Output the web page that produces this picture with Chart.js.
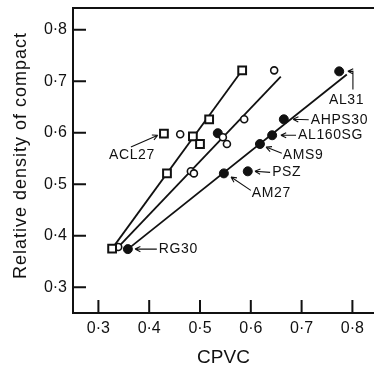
<!DOCTYPE html>
<html>
<head>
<meta charset="utf-8">
<script src="https://cdn.jsdelivr.net/npm/chart.js@4.4.1/dist/chart.umd.min.js"></script>
<style>
  html, body { margin: 0; padding: 0; background: #fff; }
  canvas { display: block; }
</style>
</head>
<body>
<canvas id="chart" width="374" height="369"></canvas>
<script>
// measured points (CPVC, relative density)
const squareX = [0.583, 0.518, 0.429, 0.486, 0.500, 0.435, 0.327];
const squareY = [0.721, 0.626, 0.598, 0.593, 0.578, 0.521, 0.375];
const openX = [0.646, 0.587, 0.461, 0.545, 0.553, 0.482, 0.488, 0.339];
const openY = [0.721, 0.626, 0.597, 0.591, 0.578, 0.525, 0.521, 0.378];
const filledX = [0.774, 0.665, 0.642, 0.535, 0.618, 0.594, 0.547, 0.358];
const filledY = [0.719, 0.626, 0.595, 0.599, 0.578, 0.525, 0.521, 0.374];

// fitted lines
const squareLineX = [0.327, 0.583];
const squareLineY = [0.375, 0.721];
const openLineX = [0.339, 0.659];
const openLineY = [0.378, 0.709];
const filledLineX = [0.358, 0.789];
const filledLineY = [0.374, 0.713];

const xTicks = [0.3, 0.4, 0.5, 0.6, 0.7, 0.8];
const yTicks = [0.3, 0.4, 0.5, 0.6, 0.7, 0.8];

const xTitle = 'CPVC';
const yTitle = 'Relative density of compact';
const powderNames = ['AL31', 'AHPS30', 'AL160SG', 'AMS9', 'PSZ', 'AM27', 'RG30', 'ACL27'];

// label placement, in data units: text anchor, then arrow path (last point gets the head)
const labelSpots = {
  AL31:    {text: [0.754, 0.663], path: [[0.801, 0.684], [0.801, 0.719], [0.791, 0.719]]},
  AHPS30:  {text: [0.718, 0.625], path: [[0.714, 0.625], [0.683, 0.626]]},
  AL160SG: {text: [0.693, 0.595], path: [[0.689, 0.595], [0.659, 0.595]]},
  AMS9:    {text: [0.663, 0.556], path: [[0.661, 0.560], [0.630, 0.572]]},
  PSZ:     {text: [0.642, 0.523], path: [[0.638, 0.523], [0.608, 0.525]]},
  AM27:    {text: [0.602, 0.483], path: [[0.600, 0.488], [0.561, 0.514]]},
  RG30:    {text: [0.419, 0.374], path: [[0.415, 0.374], [0.372, 0.374]]},
  ACL27:   {text: [0.321, 0.556], path: [[0.364, 0.572], [0.417, 0.595]]}
};

const ink = '#111';
const fontFamily = "'Liberation Sans', Arial, sans-serif";

const pairs = (xs, ys) => xs.map((v, i) => ({x: v, y: ys[i]}));
const dotted = v => String(v).replace('.', '\u00b7');
const noPad = s => { s.paddingLeft = 0; s.paddingRight = 0; s.paddingTop = 0; s.paddingBottom = 0; };

const decor = {
  id: 'decor',
  afterDraw(chart) {
    const {ctx, chartArea: a, scales: {x, y}} = chart;
    ctx.save();
    ctx.strokeStyle = ink;
    ctx.lineWidth = 2;
    ctx.beginPath();
    ctx.moveTo(a.left - 1, a.top);
    ctx.lineTo(a.right, a.top);
    // ticks point inward
    xTicks.forEach(v => {
      const px = x.getPixelForValue(v);
      ctx.moveTo(px, a.bottom);
      ctx.lineTo(px, a.bottom - 13);
    });
    yTicks.forEach(v => {
      const py = y.getPixelForValue(v);
      ctx.moveTo(a.left, py);
      ctx.lineTo(a.left + 13, py);
    });
    ctx.stroke();

    ctx.fillStyle = ink;

    // y title, a little wider-tracked than the library title allows
    ctx.save();
    ctx.font = '18px ' + fontFamily;
    ctx.letterSpacing = '1px';
    ctx.textAlign = 'center';
    ctx.textBaseline = 'alphabetic';
    ctx.translate(26, (a.top + a.bottom) / 2 - 5);
    ctx.rotate(-Math.PI / 2);
    ctx.fillText(yTitle, 0, 0);
    ctx.restore();

    ctx.font = '14px ' + fontFamily;
    ctx.letterSpacing = '0.6px';
    ctx.textBaseline = 'middle';
    ctx.textAlign = 'left';
    ctx.lineWidth = 1.1;
    powderNames.forEach(name => {
      const spot = labelSpots[name];
      ctx.fillText(name, x.getPixelForValue(spot.text[0]), y.getPixelForValue(spot.text[1]));
      const pts = spot.path.map(p => [x.getPixelForValue(p[0]), y.getPixelForValue(p[1])]);
      ctx.beginPath();
      ctx.moveTo(pts[0][0], pts[0][1]);
      pts.slice(1).forEach(p => ctx.lineTo(p[0], p[1]));
      const end = pts[pts.length - 1], prev = pts[pts.length - 2];
      const ang = Math.atan2(end[1] - prev[1], end[0] - prev[0]);
      [0.45, -0.45].forEach(d => {
        ctx.moveTo(end[0], end[1]);
        ctx.lineTo(end[0] - 6 * Math.cos(ang + d), end[1] - 6 * Math.sin(ang + d));
      });
      ctx.stroke();
    });
    ctx.restore();
  }
};

const lineSet = (xs, ys) => ({
  data: pairs(xs, ys),
  showLine: true,
  borderColor: ink,
  borderWidth: 1.8,
  pointRadius: 0,
  fill: false
});

new Chart(document.getElementById('chart'), {
  type: 'scatter',
  data: {
    datasets: [
      {data: pairs(squareX, squareY), pointStyle: 'rect', pointRadius: 5.5,
       backgroundColor: '#fff', borderColor: ink, borderWidth: 2},
      {data: pairs(openX, openY), pointStyle: 'circle', pointRadius: 3.5,
       backgroundColor: '#fff', borderColor: ink, borderWidth: 1.6},
      {data: pairs(filledX, filledY), pointStyle: 'circle', pointRadius: 4.5,
       backgroundColor: ink, borderColor: ink, borderWidth: 1},
      lineSet(squareLineX, squareLineY),
      lineSet(openLineX, openLineY),
      lineSet(filledLineX, filledLineY)
    ]
  },
  options: {
    responsive: false,
    animation: false,
    layout: {autoPadding: false, padding: {top: 8, right: 0, bottom: 0, left: 0}},
    plugins: {legend: {display: false}, tooltip: {enabled: false}},
    scales: {
      x: {
        type: 'linear',
        min: 0.25,
        max: 0.8425,
        afterBuildTicks: s => { s.ticks = xTicks.map(v => ({value: v})); },
        afterFit: s => { s.height = 56; noPad(s); },
        grid: {drawOnChartArea: false, drawTicks: false},
        border: {display: true, color: ink, width: 2},
        ticks: {color: ink, padding: 6, font: {family: fontFamily, size: 16}, callback: v => dotted(v)},
        title: {display: true, text: xTitle, color: ink, padding: 0, font: {family: fontFamily, size: 19}}
      },
      y: {
        type: 'linear',
        min: 0.25,
        max: 0.842,
        afterBuildTicks: s => { s.ticks = yTicks.map(v => ({value: v})); },
        afterFit: s => { s.width = 73; noPad(s); },
        grid: {drawOnChartArea: false, drawTicks: false},
        border: {display: true, color: ink, width: 2},
        ticks: {color: ink, padding: 6, font: {family: fontFamily, size: 16}, callback: v => dotted(v)},
        title: {display: false}
      }
    }
  },
  plugins: [decor]
});
</script>
</body>
</html>
